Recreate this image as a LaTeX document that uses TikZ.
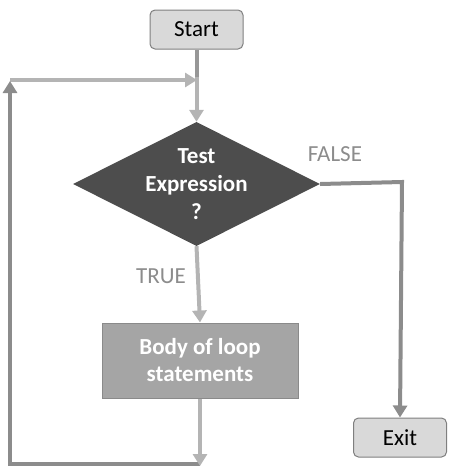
\documentclass[tikz,border=0pt]{standalone}
\usepackage{fontspec}
\setmainfont{Carlito}
\usetikzlibrary{shapes.geometric,arrows.meta}
\definecolor{boxfill}{HTML}{D9D9D9}
\definecolor{boxline}{HTML}{7F7F7F}
\definecolor{diafill}{HTML}{4D4D4D}
\definecolor{bodyfill}{HTML}{A5A5A5}
\definecolor{bodyline}{HTML}{8A8A8A}
\definecolor{lightln}{HTML}{B4B4B4}
\definecolor{darkln}{HTML}{8C8C8C}
\definecolor{lbl}{HTML}{8C8C8C}
\tikzset{
  x=1pt,y=-1pt,
  term/.style={draw=boxline,fill=boxfill,rounded corners=5pt,line width=1pt,
    minimum width=93pt,minimum height=39pt,inner sep=0pt,
    font=\fontsize{23}{26}\selectfont},
  decision/.style={diamond,fill=diafill,draw=none,inner sep=0pt,
    minimum width=247pt,minimum height=124pt,aspect=2,
    text=white,align=center,font=\fontsize{23}{28}\selectfont\bfseries},
  bodybox/.style={draw=bodyline,fill=bodyfill,line width=1pt,
    minimum width=196pt,minimum height=75pt,inner sep=0pt,
    text=white,align=center,font=\fontsize{23}{27}\selectfont\bfseries},
  conn/.style={line width=4pt,-{Triangle[length=12pt,width=14pt]}},
  plain/.style={line width=4pt},
  lab/.style={text=lbl,font=\fontsize{23}{26}\selectfont,inner sep=0pt}
}
\begin{document}
\begin{tikzpicture}
\useasboundingbox (0,0) rectangle (455,474);
\node[term] (start) at (196.5,29.5) {Start};
\node[decision] (test) at (196.5,184) {Test\\Expression\\?};
\node[bodybox] (body) at (200,360.5) {Body of loop\\statements};
\node[term] (exit) at (400,437.5) {Exit};
\coordinate (join) at (197,80);
\coordinate (lt) at (10,80);
\coordinate (lb) at (10,464);
\coordinate (bb) at (200,464);
\coordinate (fr) at (402,182);
\node[lab] (false) at (335,154) {FALSE};
\node[lab] (true) at (161,276) {TRUE};
% start to test
\draw[plain,color=darkln!90] (start.south) -- ++(0,28);
\draw[conn,color=lightln] (start.south) ++(0,27) -- (test.north);
% loop back
\draw[conn,color=lightln] (lt) -- (join);
\draw[conn,color=darkln,line join=miter] (bb) -- (lb) -- ([yshift=-1pt]lt);
% true
\draw[conn,color=lightln] (test.south) -- (body.north);
\draw[conn,color=lightln] (body.south) -- ([yshift=-2pt]bb);
% false
\draw[conn,color=darkln] (test.east) -- (fr) -- (exit.north);
\end{tikzpicture}
\end{document}
